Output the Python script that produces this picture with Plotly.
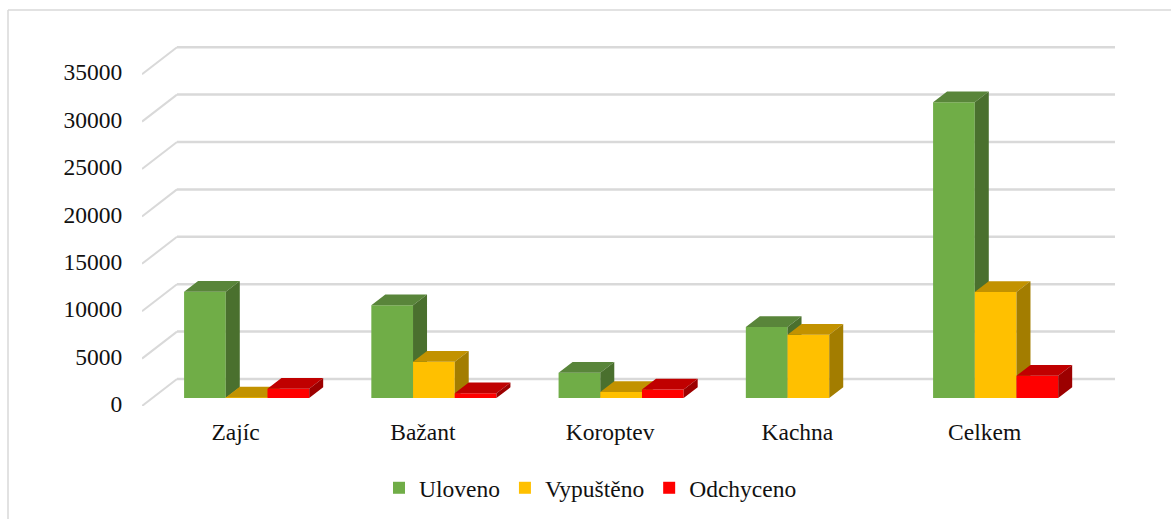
"""Game bag chart, oblique 3D look built from plain bars and filled polygons."""

import plotly.graph_objects as go

categories = ['Zajíc', 'Bažant', 'Koroptev', 'Kachna', 'Celkem']
uloveno = [11210, 9780, 2670, 7490, 31200]
vypusteno = [50, 3830, 630, 6680, 11190]
odchyceno = [980, 500, 900, 0, 2350]
y_ticks = [0, 5000, 10000, 15000, 20000, 25000, 30000, 35000]

series = [
    ('Uloveno', uloveno, '#70AD47', '#59853A', '#4A702E'),
    ('Vypuštěno', vypusteno, '#FFC000', '#C29200', '#A37D00'),
    ('Odchyceno', odchyceno, '#FF0000', '#C00000', '#9C0000'),
]

FONT = 'Liberation Serif'
FONT_SIZE = 23.5
GRID = '#D9D9D9'

# pixel scale of the axes
PX_PER_CAT = 187.25
PX_PER_UNIT = 47.4 / 5000
LEFT, RIGHT, TOP, BOTTOM = 142, 1120, 40, 406
WIDTH, HEIGHT = 1171, 519


def dx(px):
    return px / PX_PER_CAT


def dy(px):
    return px / PX_PER_UNIT


x_range = [-0.5, -0.5 + dx(RIGHT - LEFT)]
y_range = [0, dy(BOTTOM - TOP)]

# depth of the floor and of each bar
wall_dx, wall_dy = dx(35), dy(27)
bar_dx, bar_dy = dx(14), dy(10.7)
shift_x, base = dx(11), dy(8)
bar_w = dx(41.7)
wall_end = -0.5 + dx(1115 - LEFT)

fig = go.Figure()

for s, (name, values, front, top, side) in enumerate(series):
    suffix = '' if s == 0 else str(s + 1)
    xa, ya = 'x' + suffix, 'y' + suffix
    xs = [i + shift_x + (s - 1) * bar_w for i in range(len(categories))]

    fig.add_trace(go.Bar(
        x=xs,
        y=values,
        base=[base] * len(values),
        width=bar_w,
        name=name,
        marker=dict(color=front, line=dict(width=0)),
        xaxis=xa,
        yaxis=ya
    ))

    top_x, top_y, side_x, side_y = [], [], [], []
    for x, v in zip(xs, values):
        if v == 0:
            continue
        x0, x1, h = x - bar_w / 2, x + bar_w / 2, base + v
        top_x += [x0, x1, x1 + bar_dx, x0 + bar_dx, x0, None]
        top_y += [h, h, h + bar_dy, h + bar_dy, h, None]
        side_x += [x1, x1, x1 + bar_dx, x1 + bar_dx, x1, None]
        side_y += [base, h, h + bar_dy, base + bar_dy, base, None]

    for px_, py_, color in [(top_x, top_y, top), (side_x, side_y, side)]:
        fig.add_trace(go.Scatter(
            x=px_,
            y=py_,
            mode='lines',
            fill='toself',
            fillcolor=color,
            line=dict(width=0, color=color),
            showlegend=False,
            hoverinfo='skip',
            xaxis=xa,
            yaxis=ya
        ))

# gridlines run along the floor edge and then across the back wall
for v in y_ticks:
    fig.add_shape(type='line', x0=-0.5, y0=v, x1=-0.5 + wall_dx, y1=v + wall_dy,
                  line=dict(color=GRID, width=2), layer='below')
    fig.add_shape(type='line', x0=-0.5 + wall_dx, y0=v + wall_dy, x1=wall_end, y1=v + wall_dy,
                  line=dict(color=GRID, width=2.5), layer='below')

# chart frame, open on the right and at the bottom
plot_w, plot_h = RIGHT - LEFT, BOTTOM - TOP
frame_x = (8 - LEFT) / plot_w
frame_y = (BOTTOM - 10) / plot_h
for x0, y0, x1, y1 in [(frame_x, frame_y, (WIDTH - LEFT) / plot_w, frame_y),
                       (frame_x, frame_y, frame_x, (BOTTOM - HEIGHT) / plot_h)]:
    fig.add_shape(type='line', xref='paper', yref='paper', x0=x0, y0=y0, x1=x1, y1=y1,
                  line=dict(color=GRID, width=1.5))

fig.update_layout(
    width=WIDTH,
    height=HEIGHT,
    margin=dict(l=LEFT, r=WIDTH - RIGHT, t=TOP, b=HEIGHT - BOTTOM, autoexpand=False),
    barmode='overlay',
    plot_bgcolor='white',
    paper_bgcolor='white',
    font=dict(family=FONT, size=FONT_SIZE, color='#111111'),
    legend=dict(
        orientation='h',
        x=(379 - LEFT) / plot_w,
        xanchor='left',
        y=(BOTTOM - 466) / plot_h,
        yanchor='top',
        font=dict(family=FONT, size=FONT_SIZE, color='#111111'),
        bgcolor='rgba(0,0,0,0)'
    ),
    xaxis=dict(
        range=x_range,
        tickmode='array',
        tickvals=list(range(len(categories))),
        ticktext=categories,
        ticks='outside',
        ticklen=5,
        tickcolor='rgba(0,0,0,0)',
        showgrid=False,
        zeroline=False,
        showline=False
    ),
    yaxis=dict(
        range=y_range,
        tickmode='array',
        tickvals=y_ticks,
        tickformat='d',
        ticks='outside',
        ticklen=14,
        tickcolor='rgba(0,0,0,0)',
        ticklabelshift=-2,
        showgrid=False,
        zeroline=False,
        showline=False
    ),
)

# one overlaid axis pair per series, so later bars paint over earlier bars' sides
for n in (2, 3):
    fig.update_layout({
        f'xaxis{n}': dict(range=x_range, overlaying='x', visible=False),
        f'yaxis{n}': dict(range=y_range, overlaying='y', visible=False),
    })

fig.write_html(
    "out.html",
    config={'displayModeBar': False},
    post_script="document.body.style.margin='0';document.body.style.overflow='hidden';"
)
